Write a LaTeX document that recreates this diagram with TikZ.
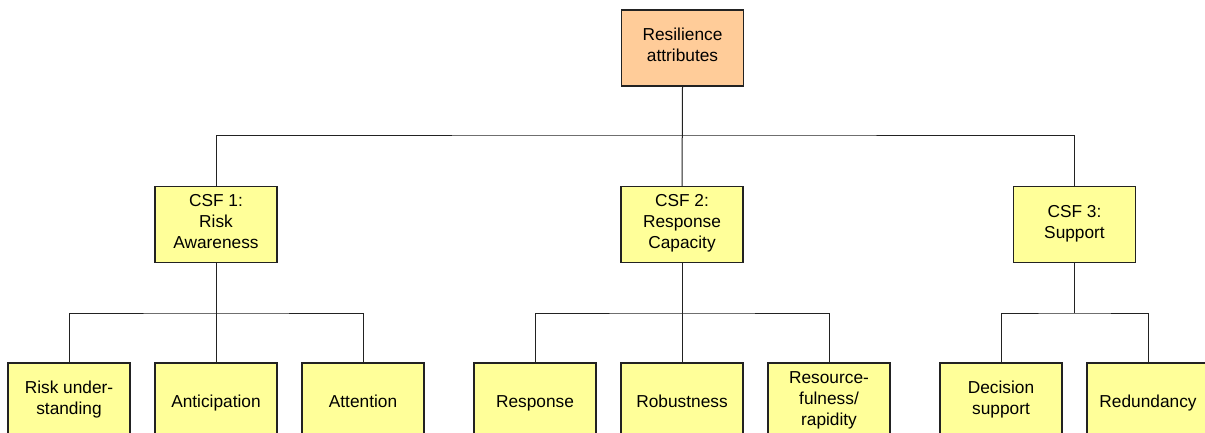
\documentclass[tikz,border=0pt]{standalone}
\usepackage{fontspec}
\setmainfont{Liberation Sans}
\definecolor{peach}{HTML}{FFCC99}
\definecolor{pale}{HTML}{FFFF99}
\definecolor{edge}{HTML}{222222}
\begin{document}
\begin{tikzpicture}[x=1pt,y=-1pt,
  box/.style={draw=edge,line width=1.2pt,fill=pale,minimum width=122pt,minimum height=76pt,
    align=center,inner sep=2pt,font=\fontsize{17.3}{21}\selectfont,
    execute at begin node={\rule{0pt}{18pt}}, execute at end node={\rule[-5.6pt]{0pt}{5.6pt}}},
  rootbox/.style={box,fill=peach},
  link/.style={draw=edge,line width=1pt}]
\clip (0,0) rectangle (1205,432);
\fill[white] (0,0) rectangle (1205,432);
\node[rootbox] (root) at (682.5,48) {Resilience\\attributes};
\node[box] (c1) at (216,224.5) {CSF 1:\\Risk\\Awareness};
\node[box] (c2) at (682,224.5) {CSF 2:\\Response\\Capacity};
\node[box] (c3) at (1074.5,224.5) {CSF 3:\\Support};
\node[box] (b1) at (69,401) {Risk under-\\standing};
\node[box] (b2) at (216,401) {Anticipation};
\node[box] (b3) at (363,401) {Attention};
\node[box] (b4) at (535,401) {Response};
\node[box] (b5) at (682,401) {Robustness};
\node[box] (b6) at (829,401) {Resource-\\fulness/\\rapidity};
\node[box] (b7) at (1001,401) {Decision\\support};
\node[box] (b8) at (1148,401) {Redundancy};
\coordinate (j0) at (682.5,135);
\coordinate (j1) at (216,313);
\coordinate (j2) at (682,313);
\coordinate (j3) at (1074.5,313);
\draw[link] (root.south) -- (c2.north);
\draw[link] (c1.north) |- (j0) -| (c3.north);
\draw[link] (c1.south) -- (b2.north);
\draw[link] (b1.north) |- (j1) -| (b3.north);
\draw[link] (c2.south) -- (b5.north);
\draw[link] (b4.north) |- (j2) -| (b6.north);
\draw[link] (c3.south) -- (j3);
\draw[link] (b7.north) |- (j3) -| (b8.north);
\end{tikzpicture}
\end{document}
